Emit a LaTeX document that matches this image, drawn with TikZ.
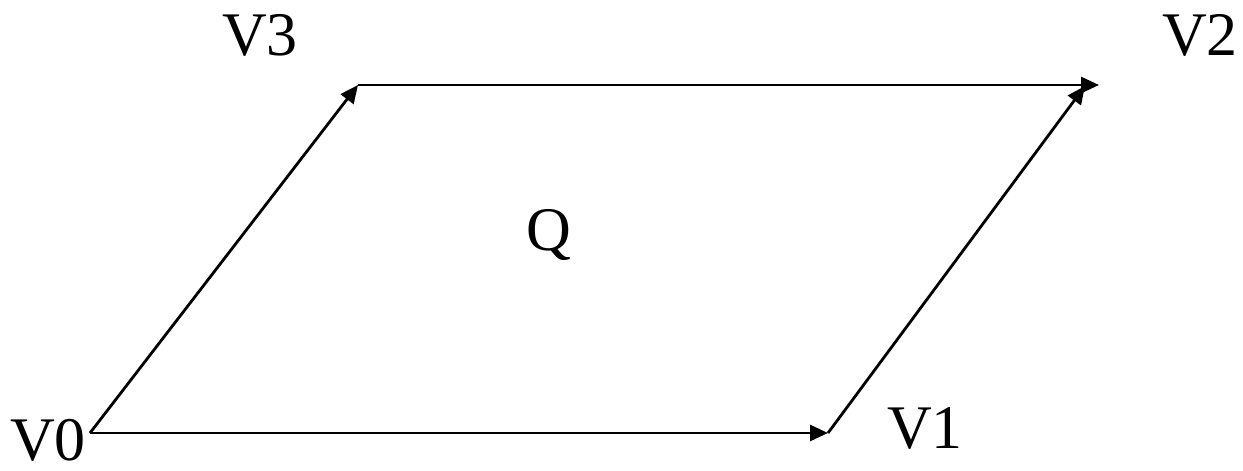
\documentclass[tikz,border=0pt]{standalone}
\usepackage{fontspec}
\setmainfont{Liberation Serif}
\usetikzlibrary{arrows.meta}
\begin{document}
\begin{tikzpicture}[x=1pt,y=-1pt,
  lbl/.style={inner sep=0pt,anchor=base,font=\fontsize{62}{70}\selectfont},
  edge/.style={line width=2.8pt,-{Triangle[length=18pt,width=16pt]}}]
\useasboundingbox (0,0) rectangle (1243,471);
\coordinate (v0) at (90,433);
\coordinate (v1) at (828,433);
\coordinate (v2) at (1099,85);
\coordinate (v2b) at (1085,86);
\coordinate (v3) at (358,85);
\node[lbl] (t0) at (48,460) {V0};
\node[lbl] (t1) at (925,448) {V1};
\node[lbl] (t2) at (1200,55) {V2};
\node[lbl] (t3) at (260,55) {V3};
\node[lbl] (q) at (549,250) {Q};
\draw[edge] (v0) -- (v1);
\draw[edge] (v0) -- (v3);
\draw[edge] (v3) -- (v2);
\draw[edge] (v1) -- (v2b);
\end{tikzpicture}
\end{document}
